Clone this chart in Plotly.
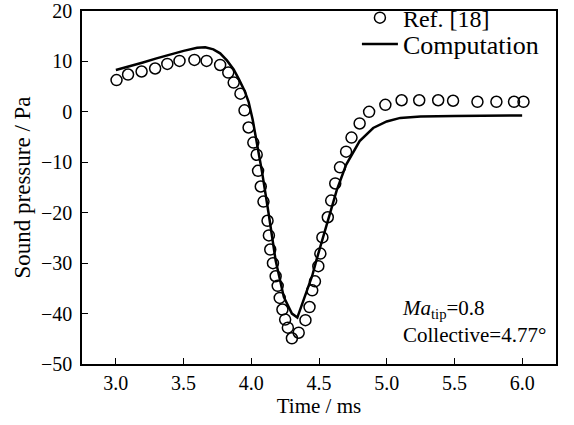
import plotly.graph_objects as go

# Ref. [18] data (open circles)
ref_t = [3.005, 3.09, 3.19, 3.29, 3.38, 3.47, 3.58, 3.67, 3.77, 3.83, 3.87, 3.92, 3.95, 3.98,
         4.015, 4.04, 4.05, 4.07, 4.09, 4.12, 4.13, 4.14, 4.16, 4.18, 4.195, 4.21, 4.23, 4.25,
         4.27, 4.30, 4.35, 4.40, 4.43, 4.45, 4.47, 4.495, 4.51, 4.525, 4.565, 4.59, 4.62, 4.655,
         4.70, 4.74, 4.80, 4.87, 4.99, 5.11, 5.24, 5.38, 5.49, 5.67, 5.81, 5.94, 6.01]
ref_p = [6.3, 7.4, 8.0, 8.6, 9.5, 10.1, 10.3, 10.1, 9.3, 7.8, 5.8, 3.6, 0.3, -3.1,
         -6.1, -8.5, -11.7, -14.8, -17.8, -21.6, -24.5, -27.3, -30.0, -32.6, -34.5, -36.9, -39.2, -41.2,
         -42.8, -44.9, -43.8, -41.3, -38.7, -35.4, -33.6, -30.6, -28.1, -24.9, -20.9, -17.6, -14.2, -11.0,
         -7.9, -5.1, -2.3, 0.0, 1.4, 2.3, 2.3, 2.3, 2.2, 2.0, 2.0, 2.0, 2.0]

# Computation (solid line)
comp_t = [3.00, 3.10, 3.20, 3.30, 3.40, 3.50, 3.60, 3.66, 3.72, 3.77, 3.82, 3.87, 3.91, 3.95,
          3.98, 4.01, 4.05, 4.08, 4.13, 4.18, 4.24, 4.30, 4.34, 4.37, 4.41, 4.45, 4.48, 4.52,
          4.56, 4.63, 4.70, 4.80, 4.90, 5.00, 5.10, 5.25, 5.50, 5.75, 6.00]
comp_p = [8.3, 9.0, 9.8, 10.6, 11.4, 12.1, 12.7, 12.8, 12.4, 11.6, 10.2, 8.4, 6.4, 4.2,
          2.0, -1.5, -7.5, -12.0, -20.5, -29.5, -36.7, -40.0, -40.8, -38.5, -35.5, -32.5, -29.5, -25.8,
          -22.0, -15.6, -10.5, -5.8, -3.2, -1.9, -1.2, -0.9, -0.8, -0.7, -0.7]

x_ticks = [3.0, 3.5, 4.0, 4.5, 5.0, 5.5, 6.0]
x_ticklabels = ["3.0", "3.5", "4.0", "4.5", "5.0", "5.5", "6.0"]
y_ticks = [20, 10, 0, -10, -20, -30, -40, -50]

FONT = "Liberation Serif, Times New Roman, serif"

fig = go.Figure()
fig.add_trace(go.Scatter(
    x=ref_t, y=ref_p, mode="markers", name="Ref. [18]", legend="legend",
    marker=dict(symbol="circle-open", size=11, color="black", line=dict(width=1.5, color="black")),
))
fig.add_trace(go.Scatter(
    x=comp_t, y=comp_p, mode="lines", name="Computation", legend="legend2",
    line=dict(color="black", width=2.5),
))

axis_common = dict(
    showline=True, linecolor="black", linewidth=1.5, mirror=True,
    ticks="inside", ticklen=6, tickwidth=1.2, tickcolor="black",
    showgrid=False, zeroline=False, automargin=False, ticklabeloverflow="allow",
    tickfont=dict(family=FONT, size=20, color="black"),
)

fig.update_xaxes(range=[2.75, 6.25], tickvals=x_ticks, ticktext=x_ticklabels,
                 title=dict(text="Time / ms", font=dict(family=FONT, size=21, color="black"), standoff=0),
                 ticklabelstandoff=0,
                 **axis_common)
fig.update_yaxes(range=[-50, 20], tickvals=y_ticks,
                 title=dict(text="Sound pressure / Pa", font=dict(family=FONT, size=23, color="black"), standoff=4),
                 ticklabelstandoff=4,
                 **axis_common)

fig.add_annotation(
    x=5.1, y=-41.6, xref="x", yref="y", xanchor="left", yanchor="middle",
    text="<i>Ma</i><sub>tip</sub>=0.8<br>Collective=4.77°",
    showarrow=False, align="left",
    font=dict(family=FONT, size=21, color="black"),
)

leg_common = dict(xanchor="left", yanchor="middle", bgcolor="rgba(0,0,0,0)", itemwidth=36)

fig.update_layout(
    width=574, height=425,
    margin=dict(l=82, r=18, t=11, b=61, autoexpand=False),
    paper_bgcolor="white", plot_bgcolor="white",
    font=dict(family=FONT, size=20, color="black"),
    legend=dict(x=0.58, y=0.980, font=dict(family=FONT, size=24, color="black"), **leg_common),
    legend2=dict(x=0.58, y=0.906, font=dict(family=FONT, size=26, color="black"), **leg_common),
    showlegend=True,
)

fig.write_html("out.html", config={"displayModeBar": False},
               post_script="document.body.style.margin='0px';")
